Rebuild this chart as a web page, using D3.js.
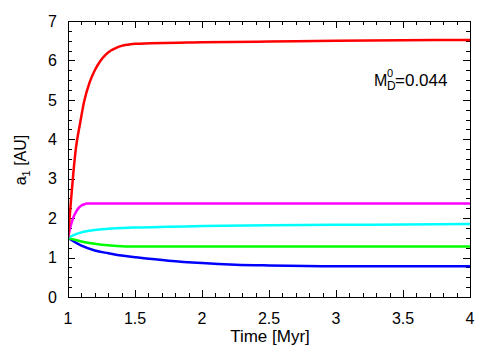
<!DOCTYPE html>
<html>
<head>
<meta charset="utf-8">
<script src="https://cdn.jsdelivr.net/npm/d3@7"></script>
<style>
  body { margin: 0; background: #fff; }
  text { font-family: "Liberation Sans", Arial, sans-serif; fill: #000; }
</style>
</head>
<body>
<script>
// values: time in Myr, semi-major axis in AU
const redT  = [1, 1.02, 1.04, 1.06, 1.09, 1.12, 1.16, 1.2, 1.24, 1.28, 1.32, 1.36, 1.4, 1.45, 1.5, 2, 2.5, 3, 3.5, 4];
const redA  = [1.5, 2.35, 3.15, 3.8, 4.4, 4.95, 5.43, 5.75, 5.98, 6.14, 6.25, 6.32, 6.37, 6.4, 6.42, 6.46, 6.48, 6.5, 6.51, 6.52];
const magT  = [1, 1.02, 1.04, 1.06, 1.08, 1.1, 1.12, 1.14, 1.5, 2, 3, 4];
const magA  = [1.5, 1.8, 2.02, 2.16, 2.26, 2.32, 2.35, 2.37, 2.37, 2.37, 2.37, 2.37];
const cyanT = [1, 1.05, 1.1, 1.2, 1.3, 1.5, 2, 2.5, 3, 3.5, 4];
const cyanA = [1.5, 1.58, 1.64, 1.7, 1.73, 1.76, 1.8, 1.82, 1.83, 1.84, 1.85];
const grnT  = [1, 1.05, 1.1, 1.2, 1.3, 1.4, 1.5, 2, 3, 4];
const grnA  = [1.5, 1.45, 1.41, 1.35, 1.31, 1.29, 1.28, 1.28, 1.28, 1.28];
const bluT  = [1, 1.1, 1.2, 1.3, 1.4, 1.5, 1.75, 2, 2.25, 2.5, 3, 3.5, 4];
const bluA  = [1.5, 1.3, 1.18, 1.11, 1.05, 1.01, 0.92, 0.86, 0.82, 0.8, 0.78, 0.78, 0.78];

const xTicks = [1, 1.5, 2, 2.5, 3, 3.5, 4];
const yTicks = [0, 1, 2, 3, 4, 5, 6, 7];

const w = 500, h = 350;
const m = {left: 68, right: 30, top: 21, bottom: 53};

const svg = d3.select("body").append("svg")
  .attr("width", w).attr("height", h);

const x = d3.scaleLinear().domain([1, 4]).range([m.left, w - m.right]);
const y = d3.scaleLinear().domain([0, 7]).range([h - m.bottom, m.top]);

// minor + major ticks, inward, on all four sides
const xMinor = d3.range(10, 41).map(d => d / 10);
const yMinor = d3.range(0, 29).map(d => d / 4);

const ticks = svg.append("g").attr("stroke", "#000").attr("stroke-width", 1);
xMinor.forEach(v => {
  const big = xTicks.includes(Math.round(v * 10) / 10);
  const len = big ? 7 : 4;
  const px = Math.round(x(v)) + 0.5;
  ticks.append("line").attr("x1", px).attr("x2", px).attr("y1", y(0)).attr("y2", y(0) - len);
  ticks.append("line").attr("x1", px).attr("x2", px).attr("y1", y(7)).attr("y2", y(7) + len);
});
yMinor.forEach(v => {
  const big = Number.isInteger(v);
  const len = big ? 7 : 4;
  const py = Math.round(y(v)) + 0.5;
  ticks.append("line").attr("x1", x(1)).attr("x2", x(1) + len).attr("y1", py).attr("y2", py);
  ticks.append("line").attr("x1", x(4)).attr("x2", x(4) - len).attr("y1", py).attr("y2", py);
});

// tick labels
svg.append("g").selectAll("text").data(xTicks).enter().append("text")
  .attr("x", d => x(d)).attr("y", 324)
  .attr("text-anchor", "middle").attr("font-size", 16)
  .text(d => d);
svg.append("g").selectAll("text").data(yTicks).enter().append("text")
  .attr("x", 57).attr("y", d => y(d)).attr("dy", "0.36em")
  .attr("text-anchor", "end").attr("font-size", 16)
  .text(d => d);

// curves
const line = d3.line().x(d => x(d[0])).y(d => y(d[1])).curve(d3.curveMonotoneX);
const series = [
  [bluT, bluA, "#0000ff"],
  [grnT, grnA, "#00ff00"],
  [cyanT, cyanA, "#00ffff"],
  [magT, magA, "#ff00ff"],
  [redT, redA, "#ff0000"]
];
svg.append("defs").append("clipPath").attr("id", "clip")
  .append("rect").attr("x", x(1)).attr("y", y(7)).attr("width", x(4) - x(1)).attr("height", y(0) - y(7));
svg.append("g").attr("clip-path", "url(#clip)").selectAll("path").data(series).enter().append("path")
  .attr("d", s => line(s[0].map((t, i) => [t, s[1][i]])))
  .attr("fill", "none")
  .attr("stroke", s => s[2])
  .attr("stroke-width", 2.5);

// frame
svg.append("rect")
  .attr("x", x(1) + 0.5).attr("y", y(7) + 0.5)
  .attr("width", x(4) - x(1)).attr("height", y(0) - y(7))
  .attr("fill", "none").attr("stroke", "#000");

// axis titles
svg.append("text").attr("x", 270).attr("y", 342)
  .attr("text-anchor", "middle").attr("font-size", 17)
  .text("Time [Myr]");
const yl = svg.append("text")
  .attr("transform", "translate(26,160) rotate(-90)")
  .attr("text-anchor", "middle").attr("font-size", 16);
yl.append("tspan").text("a");
yl.append("tspan").attr("dy", 4).attr("font-size", 11).text("1");
yl.append("tspan").attr("dy", -4).text(" [AU]");

// annotation: M_D^0 with the 0 stacked over the D
svg.append("text").attr("x", 374).attr("y", 86).attr("font-size", 16).text("M");
svg.append("text").attr("x", 387).attr("y", 77).attr("font-size", 11).text("0");
svg.append("text").attr("x", 387).attr("y", 90).attr("font-size", 12).text("D");
svg.append("text").attr("x", 395).attr("y", 86).attr("font-size", 17).text("=0.044");
</script>
</body>
</html>
